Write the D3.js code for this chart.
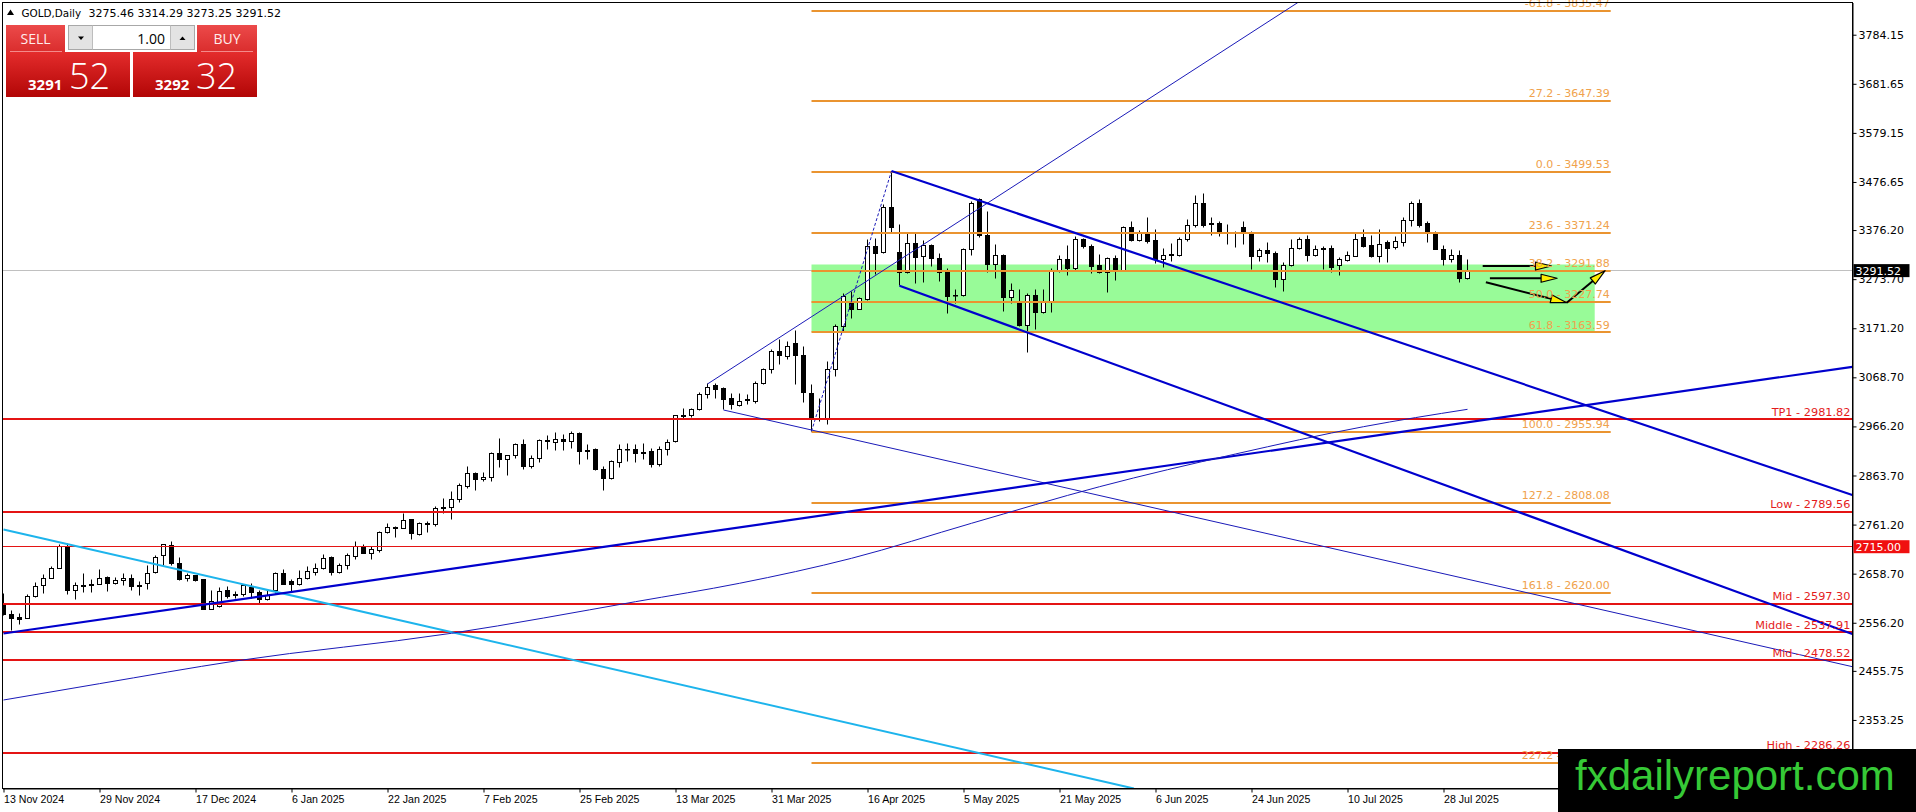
<!DOCTYPE html>
<html>
<head>
<meta charset="utf-8">
<script src="https://cdn.jsdelivr.net/npm/d3@7"></script>
<style>
  body { margin: 0; background: #fff; }
  svg { display: block; }
</style>
</head>
<body>
<div id="chart-area"></div>
<script>
// daily bars, 13 Nov 2024 .. 31 Jul 2025 (index 0..183)
const opens = [
  2596.8, 2572.4, 2567.6, 2565.5, 2610.7, 2633.0, 2649.0, 2669.9, 2715.1, 2624.6,
  2634.4, 2636.4, 2637.1, 2651.1, 2638.6, 2643.4, 2649.0, 2633.7, 2638.6, 2660.8,
  2695.6, 2716.5, 2680.3, 2648.3, 2653.9, 2645.5, 2584.3, 2589.8, 2623.2, 2615.6,
  2614.2, 2630.2, 2619.1, 2603.8, 2623.2, 2658.1, 2642.7, 2635.1, 2649.0, 2660.8,
  2668.5, 2692.1, 2660.8, 2676.8, 2694.2, 2715.1, 2701.2, 2706.8, 2744.3, 2754.1,
  2753.4, 2770.8, 2739.5, 2763.8, 2760.4, 2797.3, 2797.3, 2814.0, 2840.4, 2866.9,
  2855.7, 2859.9, 2908.6, 2897.5, 2904.5, 2927.4, 2882.2, 2899.6, 2934.4, 2932.3,
  2939.2, 2934.4, 2951.8, 2915.6, 2917.0, 2876.6, 2857.8, 2891.2, 2917.0, 2917.0,
  2910.7, 2913.5, 2887.7, 2917.0, 2934.4, 2986.6, 2988.7, 3000.5, 3033.2, 3050.6,
  3045.7, 3024.9, 3010.9, 3020.0, 3017.9, 3054.8, 3085.4, 3122.3, 3113.2, 3139.7,
  3115.3, 3035.3, 2983.1, 2983.1, 3084.0, 3174.5, 3226.7, 3210.7, 3230.2, 3341.6,
  3329.0, 3423.7, 3329.0, 3287.3, 3348.5, 3320.7, 3345.0, 3317.2, 3291.4, 3238.6,
  3238.6, 3336.0, 3439.0, 3365.9, 3303.3, 3324.1, 3235.8, 3226.7, 3175.9, 3239.3,
  3203.7, 3226.7, 3291.4, 3315.1, 3296.3, 3355.5, 3342.9, 3301.2, 3287.3, 3317.2,
  3292.8, 3381.9, 3354.1, 3370.8, 3354.1, 3313.7, 3323.5, 3324.1, 3355.5, 3384.7,
  3432.0, 3388.9, 3388.9, 3370.8, 3370.1, 3381.9, 3368.0, 3322.0, 3332.5, 3327.6,
  3273.3, 3301.9, 3338.1, 3356.9, 3324.1, 3335.9, 3338.1, 3301.9, 3312.3, 3322.0,
  3361.0, 3345.0, 3322.0, 3349.9, 3340.2, 3349.9, 3395.8, 3432.0, 3388.9, 3369.4,
  3336.0, 3313.7, 3324.1, 3275.46
];
const highs = [
  2617.7, 2580.8, 2575.9, 2614.2, 2639.9, 2656.0, 2673.4, 2718.6, 2722.1, 2640.6,
  2658.1, 2646.9, 2666.4, 2652.5, 2651.1, 2658.1, 2656.0, 2642.0, 2676.8, 2695.6,
  2720.0, 2726.9, 2692.8, 2658.1, 2655.3, 2646.9, 2624.6, 2630.2, 2631.6, 2621.2,
  2635.1, 2638.6, 2624.6, 2623.2, 2660.8, 2666.4, 2646.9, 2665.0, 2673.4, 2680.3,
  2697.7, 2694.2, 2678.9, 2701.2, 2725.5, 2718.6, 2715.1, 2746.4, 2763.8, 2756.9,
  2784.7, 2772.2, 2765.2, 2767.3, 2798.6, 2816.1, 2830.0, 2846.0, 2882.2, 2869.6,
  2869.6, 2911.4, 2941.3, 2906.5, 2930.9, 2939.2, 2906.5, 2937.9, 2946.2, 2953.2,
  2948.3, 2955.3, 2953.2, 2927.4, 2920.5, 2882.2, 2894.0, 2927.4, 2929.5, 2927.4,
  2930.9, 2920.5, 2923.9, 2939.2, 2990.0, 3004.0, 3004.0, 3036.7, 3054.8, 3054.8,
  3047.8, 3033.9, 3035.3, 3031.8, 3059.7, 3087.5, 3125.8, 3148.0, 3143.2, 3167.5,
  3134.1, 3054.1, 3024.9, 3101.4, 3178.0, 3242.7, 3247.6, 3235.1, 3356.9, 3358.9,
  3430.6, 3499.53, 3386.8, 3369.4, 3368.0, 3354.1, 3347.1, 3327.6, 3296.3, 3251.1,
  3338.1, 3435.5, 3442.5, 3414.6, 3346.4, 3326.2, 3265.0, 3251.1, 3242.7, 3251.1,
  3251.1, 3296.3, 3324.1, 3345.0, 3363.8, 3358.9, 3347.1, 3326.2, 3319.3, 3322.1,
  3383.3, 3393.8, 3375.0, 3402.8, 3376.4, 3338.1, 3348.5, 3361.0, 3398.6, 3447.4,
  3452.9, 3402.8, 3393.7, 3386.8, 3372.9, 3393.7, 3372.9, 3338.1, 3349.9, 3331.1,
  3308.1, 3356.9, 3361.0, 3365.9, 3345.0, 3341.5, 3345.0, 3319.3, 3331.1, 3370.8,
  3376.4, 3365.9, 3377.7, 3354.1, 3362.4, 3402.8, 3435.5, 3439.0, 3393.7, 3372.9,
  3345.0, 3334.6, 3333.2, 3314.29
];
const lows = [
  2570.4, 2539.7, 2553.6, 2564.1, 2609.3, 2617.7, 2647.6, 2668.5, 2615.6, 2605.1,
  2619.1, 2619.8, 2635.1, 2621.2, 2635.1, 2633.0, 2624.6, 2612.8, 2626.0, 2658.1,
  2676.8, 2676.8, 2644.1, 2642.0, 2642.7, 2582.9, 2582.9, 2588.4, 2606.5, 2607.2,
  2610.7, 2607.2, 2593.3, 2602.4, 2617.7, 2635.8, 2621.2, 2633.0, 2645.5, 2653.9,
  2666.4, 2653.9, 2658.1, 2666.4, 2687.3, 2699.8, 2687.3, 2702.6, 2743.0, 2734.6,
  2752.0, 2730.4, 2737.4, 2745.0, 2756.9, 2784.7, 2770.8, 2807.0, 2836.9, 2832.1,
  2850.9, 2850.9, 2880.8, 2862.7, 2899.6, 2875.2, 2878.7, 2890.5, 2918.4, 2915.6,
  2915.6, 2920.5, 2885.7, 2896.1, 2873.8, 2832.1, 2854.3, 2880.8, 2892.6, 2890.5,
  2896.1, 2880.8, 2882.2, 2906.5, 2932.3, 2979.6, 2985.2, 2999.1, 3023.5, 3024.9,
  3000.5, 3000.5, 3007.4, 3013.0, 3014.4, 3052.7, 3075.7, 3094.5, 3104.9, 3052.7,
  3015.8, 2955.94, 2976.2, 2969.2, 3070.1, 3164.1, 3191.9, 3209.3, 3228.8, 3282.4,
  3327.6, 3369.4, 3260.0, 3285.9, 3265.0, 3266.4, 3299.8, 3268.5, 3202.4, 3223.2,
  3237.2, 3324.1, 3361.0, 3287.3, 3275.4, 3205.8, 3223.2, 3174.5, 3120.2, 3167.6,
  3202.4, 3203.7, 3287.3, 3280.3, 3292.8, 3338.1, 3285.9, 3285.9, 3245.5, 3270.6,
  3291.4, 3352.0, 3352.0, 3348.5, 3306.8, 3298.4, 3310.2, 3320.7, 3352.0, 3381.9,
  3381.9, 3365.9, 3362.4, 3347.1, 3340.2, 3347.1, 3294.2, 3310.2, 3308.1, 3256.6,
  3247.6, 3299.8, 3334.6, 3310.2, 3322.0, 3294.2, 3287.3, 3280.3, 3310.2, 3320.7,
  3340.2, 3319.3, 3308.1, 3308.1, 3336.0, 3342.9, 3383.3, 3381.9, 3349.9, 3334.6,
  3301.2, 3308.1, 3266.4, 3273.25
];
const closes = [
  2572.4, 2564.1, 2563.4, 2610.7, 2631.6, 2649.0, 2669.9, 2715.1, 2624.6, 2633.0,
  2632.3, 2633.0, 2649.0, 2638.6, 2644.1, 2649.0, 2631.6, 2632.3, 2659.4, 2692.8,
  2718.6, 2680.3, 2645.5, 2653.9, 2644.1, 2584.3, 2600.3, 2622.5, 2610.7, 2612.8,
  2633.0, 2619.1, 2605.1, 2613.5, 2658.1, 2637.1, 2637.1, 2649.0, 2662.9, 2669.9,
  2690.7, 2660.8, 2676.8, 2696.3, 2715.1, 2701.2, 2708.2, 2745.0, 2755.5, 2752.7,
  2769.4, 2741.6, 2763.8, 2760.4, 2795.2, 2793.8, 2814.0, 2841.8, 2866.9, 2854.3,
  2859.2, 2908.6, 2897.5, 2904.5, 2928.8, 2882.2, 2899.6, 2935.8, 2935.8, 2939.2,
  2934.4, 2951.8, 2913.5, 2913.5, 2875.2, 2857.8, 2892.6, 2918.4, 2918.4, 2910.0,
  2910.0, 2887.7, 2917.0, 2932.3, 2988.7, 2988.0, 3000.5, 3033.2, 3047.8, 3043.7,
  3022.8, 3013.0, 3017.9, 3021.4, 3056.2, 3085.4, 3122.3, 3115.3, 3134.1, 3115.3,
  3036.7, 2983.1, 2982.0, 3084.0, 3174.5, 3237.2, 3210.7, 3233.7, 3341.6, 3327.6,
  3423.7, 3381.9, 3287.3, 3348.5, 3319.3, 3345.0, 3317.2, 3287.3, 3237.2, 3240.0,
  3334.6, 3432.0, 3365.9, 3303.3, 3324.1, 3235.8, 3249.7, 3175.9, 3239.3, 3203.7,
  3226.7, 3291.4, 3315.1, 3296.3, 3356.9, 3342.9, 3299.8, 3287.3, 3317.2, 3289.4,
  3381.9, 3354.1, 3369.4, 3352.0, 3313.7, 3324.1, 3324.8, 3355.5, 3384.7, 3432.0,
  3384.7, 3386.8, 3372.9, 3369.4, 3369.4, 3368.0, 3322.0, 3332.5, 3327.6, 3273.3,
  3301.9, 3338.1, 3356.9, 3324.1, 3335.9, 3337.4, 3298.4, 3313.7, 3324.1, 3355.5,
  3342.9, 3320.7, 3347.1, 3338.1, 3352.0, 3397.2, 3432.0, 3384.7, 3369.4, 3336.0,
  3313.7, 3324.1, 3275.4, 3291.52
];

const dateTickBars = [0, 12, 24, 36, 48, 60, 72, 84, 96, 108, 120, 132, 144, 156, 168, 180];
const dateTickLabels = ['13 Nov 2024', '29 Nov 2024', '17 Dec 2024', '6 Jan 2025', '22 Jan 2025',
  '7 Feb 2025', '25 Feb 2025', '13 Mar 2025', '31 Mar 2025', '16 Apr 2025', '5 May 2025',
  '21 May 2025', '6 Jun 2025', '24 Jun 2025', '10 Jul 2025', '28 Jul 2025'];

const priceTicks = [3784.15, 3681.65, 3579.15, 3476.65, 3376.20, 3273.70, 3171.20, 3068.70,
  2966.20, 2863.70, 2761.20, 2658.70, 2556.20, 2455.75, 2353.25];

// fibonacci from the 7 Apr low (bar 101) to the 22 Apr high (bar 111)
const fibRatios = [-61.8, 27.2, 0.0, 23.6, 38.2, 50.0, 61.8, 100.0, 127.2, 161.8, 227.2];
const fibPrices = [3835.47, 3647.39, 3499.53, 3371.24, 3291.88, 3227.74, 3163.59, 2955.94, 2808.08, 2620.00, 2264.49];
const fibBars = [101, 200.9];
const fibSwing = [101, 2955.94, 111, 3499.53];

const zoneBars = [101, 198.9];
const zonePrices = [3304.3, 3163.59];

const levelNames = ['TP1', 'Low', '', 'Mid', 'Middle', 'Mid', 'High'];
const levelPrices = [2981.82, 2789.56, 2715.00, 2597.30, 2537.91, 2478.52, 2286.26];

// trend lines as [bar1, price1, bar2, price2]
const thickTrends = [
  [0, 2533.8, 231.1, 3090.7],
  [111, 3499.53, 231.1, 2823.0],
  [112, 3260.0, 231.1, 2532.7]
];
const thinTrends = [
  [88, 3054.8, 161.8, 3851.4],
  [90, 3000.5, 231.1, 2464.5]
];
const cyanTrends = [
  [0, 2751.0, 141.3, 2210.1]
];

const maBars = [0, 12, 29, 56, 79, 92, 106, 121, 137, 154, 170, 183];
const maValues = [2394.9, 2429.0, 2476.4, 2534.2, 2600.2, 2638.6, 2690.8, 2763.9, 2840.3, 2908.6, 2965.6, 3001.9];

const arrows = [
  [184.9, 3301.1, 193.5, 3301.1],
  [185.8, 3275.5, 194.2, 3275.5],
  [185.3, 3267.1, 195.4, 3224.5],
  [195.4, 3224.5, 200.2, 3291.4]
];

const symbolName = 'GOLD,Daily';
const lastBar = [3275.46, 3314.29, 3273.25, 3291.52];
const bidPrice = 3291.52;
const askPrice = 3292.32;
const lotSize = '1.00';
const alertPrice = 2715.00;

const margin = {left: 2.5, top: 2.5, right: 63.5, bottom: 23.5};
const width = 1916 - margin.left - margin.right;
const height = 812 - margin.top - margin.bottom;

const svg = d3.select('#chart-area').append('svg')
  .attr('width', 1916)
  .attr('height', 812);

const defs = svg.append('defs');
defs.append('clipPath').attr('id', 'plot-clip')
  .append('rect').attr('width', width).attr('height', height);

const boxGrad = defs.append('linearGradient').attr('id', 'box-red')
  .attr('x1', 0).attr('y1', 0).attr('x2', 0).attr('y2', 1);
boxGrad.append('stop').attr('offset', 0).attr('stop-color', '#e42c2c');
boxGrad.append('stop').attr('offset', 1).attr('stop-color', '#b20606');

const btnGrad = defs.append('linearGradient').attr('id', 'btn-red')
  .attr('x1', 0).attr('y1', 0).attr('x2', 0).attr('y2', 1);
btnGrad.append('stop').attr('offset', 0).attr('stop-color', '#ec4a4a');
btnGrad.append('stop').attr('offset', 1).attr('stop-color', '#da2d2d');

const canvas = svg.append('g')
  .attr('transform', `translate(${margin.left}, ${margin.top})`);

const x = d3.scaleLinear()
  .domain([-0.125, 231.125])
  .range([0, width]);

const y = d3.scaleLinear()
  .domain([2210.1, 3851.4])
  .range([height, 0]);

const plot = canvas.append('g').attr('clip-path', 'url(#plot-clip)');

// green retracement zone (background)
plot.append('rect')
  .attr('x', x(zoneBars[0]))
  .attr('y', y(zonePrices[0]))
  .attr('width', x(zoneBars[1]) - x(zoneBars[0]))
  .attr('height', y(zonePrices[1]) - y(zonePrices[0]))
  .attr('fill', '#98fb98');

// candles
const barIdx = d3.range(opens.length);
const candle = plot.selectAll('g.candle').data(barIdx).enter()
  .append('g').attr('class', 'candle');

candle.append('line')
  .attr('x1', i => x(i))
  .attr('x2', i => x(i))
  .attr('y1', i => Math.round(y(highs[i])))
  .attr('y2', i => Math.round(y(lows[i])))
  .attr('stroke', '#000');

candle.append('rect')
  .attr('x', i => x(i) - 2)
  .attr('y', i => Math.round(y(Math.max(opens[i], closes[i]))))
  .attr('width', 4)
  .attr('height', i => Math.max(0.5, Math.round(y(Math.min(opens[i], closes[i]))) - Math.round(y(Math.max(opens[i], closes[i])))))
  .attr('fill', i => closes[i] >= opens[i] ? '#fff' : '#000')
  .attr('stroke', '#000');

// bid line
plot.append('line')
  .attr('x1', 0).attr('x2', width)
  .attr('y1', Math.round(y(bidPrice))).attr('y2', Math.round(y(bidPrice)))
  .attr('stroke', '#c0c0c0');

// fibonacci levels
fibPrices.forEach((p, k) => {
  const yy = Math.round(y(p)) + 0.5;
  plot.append('line')
    .attr('x1', x(fibBars[0])).attr('x2', x(fibBars[1]))
    .attr('y1', yy).attr('y2', yy)
    .attr('stroke', '#ea9430')
    .attr('stroke-width', 2);
});

plot.append('line')
  .attr('x1', x(fibSwing[0])).attr('y1', y(fibSwing[1]))
  .attr('x2', x(fibSwing[2])).attr('y2', y(fibSwing[3]))
  .attr('stroke', '#1a1ab8')
  .attr('stroke-dasharray', '3,2');

// horizontal red levels
levelPrices.forEach((p, k) => {
  const thin = levelNames[k] === '';
  const yy = Math.round(y(p)) + (thin ? 0 : 0.5);
  plot.append('line')
    .attr('x1', 0).attr('x2', width)
    .attr('y1', yy).attr('y2', yy)
    .attr('stroke', '#e41414')
    .attr('stroke-width', thin ? 1 : 2);
});

// trend lines
const drawTrend = (t, color, w) => {
  plot.append('line')
    .attr('x1', x(t[0])).attr('y1', y(t[1]))
    .attr('x2', x(t[2])).attr('y2', y(t[3]))
    .attr('stroke', color)
    .attr('stroke-width', w);
};
cyanTrends.forEach(t => drawTrend(t, '#1db4ec', 2));
thinTrends.forEach(t => drawTrend(t, '#1a1ab8', 1));
thickTrends.forEach(t => drawTrend(t, '#0000cd', 2.2));

// moving average
plot.append('path')
  .datum(maBars)
  .attr('fill', 'none')
  .attr('stroke', '#1a1ab8')
  .attr('stroke-width', 1)
  .attr('d', d3.line()
    .x(b => x(b))
    .y((b, k) => y(maValues[k]))
    .curve(d3.curveMonotoneX));

// projection arrows
arrows.forEach(a => {
  const x1 = x(a[0]), y1 = y(a[1]), x2 = x(a[2]), y2 = y(a[3]);
  const ang = Math.atan2(y2 - y1, x2 - x1);
  const len = 16, half = 4;
  const bx = x2 - len * Math.cos(ang), by = y2 - len * Math.sin(ang);
  canvas.append('line')
    .attr('x1', x1).attr('y1', y1).attr('x2', bx).attr('y2', by)
    .attr('stroke', '#000').attr('stroke-width', 2);
  const pts = [
    [x2, y2],
    [bx - half * Math.sin(ang), by + half * Math.cos(ang)],
    [bx + half * Math.sin(ang), by - half * Math.cos(ang)]
  ];
  canvas.append('path')
    .attr('d', 'M' + pts.map(p => p.join(',')).join('L') + 'Z')
    .attr('fill', '#ffee00')
    .attr('stroke', '#000')
    .attr('stroke-width', 1.2)
    .attr('stroke-linejoin', 'round');
});

// fib labels
fibPrices.forEach((p, k) => {
  canvas.append('text')
    .attr('x', x(fibBars[1]) - 1)
    .attr('y', y(p) - 3)
    .attr('text-anchor', 'end')
    .attr('font-family', 'DejaVu Sans, sans-serif')
    .attr('font-size', 11)
    .attr('fill', '#f0a24c')
    .text(`${fibRatios[k].toFixed(1)} - ${p.toFixed(2)}`);
});

// red level labels
levelPrices.forEach((p, k) => {
  if (!levelNames[k]) return;
  canvas.append('text')
    .attr('x', width - 2)
    .attr('y', y(p) - 3)
    .attr('text-anchor', 'end')
    .attr('font-family', 'DejaVu Sans, sans-serif')
    .attr('font-size', 11.3)
    .attr('fill', '#e41b1b')
    .text(`${levelNames[k]} - ${p.toFixed(2)}`);
});

// frame
canvas.append('rect')
  .attr('width', width)
  .attr('height', height)
  .attr('fill', 'none')
  .attr('stroke', '#000');

// axes
const yAxisGroup = canvas.append('g')
  .attr('transform', `translate(${width}, 0)`);
yAxisGroup.call(d3.axisRight(y)
  .tickValues(priceTicks)
  .tickFormat(d3.format('.2f'))
  .tickSize(4)
  .tickSizeOuter(0)
  .tickPadding(2));
yAxisGroup.attr('font-family', 'DejaVu Sans, sans-serif').attr('font-size', 11);

const xAxisGroup = canvas.append('g')
  .attr('transform', `translate(0, ${height})`);
xAxisGroup.call(d3.axisBottom(x)
  .tickValues(dateTickBars)
  .tickFormat((d, i) => dateTickLabels[i])
  .tickSize(4)
  .tickSizeOuter(0)
  .tickPadding(3));
xAxisGroup.attr('font-family', 'Liberation Sans, Arial, sans-serif').attr('font-size', 10.6);
xAxisGroup.selectAll('text').attr('text-anchor', 'start');

// price tags on the axis
const priceTag = (p, fill) => {
  const yy = y(p);
  canvas.append('rect')
    .attr('x', width + 1).attr('y', yy - 6.5)
    .attr('width', 56).attr('height', 13)
    .attr('fill', fill);
  canvas.append('text')
    .attr('x', width + 3).attr('y', yy + 4.5)
    .attr('font-family', 'DejaVu Sans, sans-serif')
    .attr('font-size', 11)
    .attr('fill', '#fff')
    .text(p.toFixed(2));
};
priceTag(bidPrice, '#000');
priceTag(alertPrice, '#f01010');

// header line
svg.append('path').attr('d', 'M7,15L14,15L10.5,9.5Z').attr('fill', '#000');
svg.append('text')
  .attr('x', 21.5).attr('y', 17)
  .attr('font-family', 'DejaVu Sans, sans-serif').attr('font-size', 10.4)
  .text(symbolName);
svg.append('text')
  .attr('x', 88.5).attr('y', 17)
  .attr('font-family', 'DejaVu Sans, sans-serif').attr('font-size', 11)
  .text(lastBar.map(v => v.toFixed(2)).join(' '));

// one click trading panel
const panel = svg.append('g').attr('font-family', 'Open Sans, sans-serif');
panel.append('rect').attr('x', 6).attr('y', 25).attr('width', 59).attr('height', 27).attr('fill', 'url(#btn-red)');
panel.append('rect').attr('x', 197).attr('y', 25).attr('width', 60).attr('height', 27).attr('fill', 'url(#btn-red)');
panel.append('line').attr('x1', 10).attr('x2', 62).attr('y1', 51.5).attr('y2', 51.5).attr('stroke', '#f48a8a');
panel.append('line').attr('x1', 201).attr('x2', 253).attr('y1', 51.5).attr('y2', 51.5).attr('stroke', '#f48a8a');
panel.append('text').attr('x', 35.5).attr('y', 44).attr('text-anchor', 'middle')
  .attr('font-size', 14).attr('fill', '#ffecec').text('SELL');
panel.append('text').attr('x', 227).attr('y', 44).attr('text-anchor', 'middle')
  .attr('font-size', 14).attr('fill', '#ffecec').text('BUY');

panel.append('rect').attr('x', 68.5).attr('y', 25.5).attr('width', 126).attr('height', 24)
  .attr('fill', '#fff').attr('stroke', '#a8a8a8');
panel.append('rect').attr('x', 69).attr('y', 26).attr('width', 23.5).attr('height', 23).attr('fill', '#e3e3e3');
panel.append('rect').attr('x', 170.5).attr('y', 26).attr('width', 23.5).attr('height', 23).attr('fill', '#e3e3e3');
panel.append('line').attr('x1', 92.5).attr('x2', 92.5).attr('y1', 25.5).attr('y2', 49.5).attr('stroke', '#bdbdbd');
panel.append('line').attr('x1', 170.5).attr('x2', 170.5).attr('y1', 25.5).attr('y2', 49.5).attr('stroke', '#bdbdbd');
panel.append('path').attr('d', 'M78,36.5L84,36.5L81,40Z').attr('fill', '#000');
panel.append('path').attr('d', 'M179.5,40L185.5,40L182.5,36.5Z').attr('fill', '#000');
panel.append('text').attr('x', 165).attr('y', 43.5).attr('text-anchor', 'end')
  .attr('font-size', 14).attr('fill', '#000').text(lotSize);

const priceBox = (x0, price) => {
  const big = price.toFixed(2).split('.');
  panel.append('rect').attr('x', x0).attr('y', 52).attr('width', 124).attr('height', 45)
    .attr('fill', 'url(#box-red)');
  panel.append('text').attr('x', x0 + 22).attr('y', 90)
    .attr('font-size', 15).attr('font-weight', 'bold').attr('fill', '#fff').text(big[0]);
  panel.append('text').attr('x', x0 + 63).attr('y', 89)
    .attr('font-size', 36).attr('font-weight', 300).attr('fill', '#fff').text(big[1]);
};
priceBox(6, bidPrice);
priceBox(133, askPrice);

// watermark
svg.append('rect').attr('x', 1558).attr('y', 749).attr('width', 358).attr('height', 63).attr('fill', '#000');
svg.append('text')
  .attr('x', 1575).attr('y', 790)
  .attr('font-family', 'Liberation Sans, Arial, sans-serif')
  .attr('font-size', 42)
  .attr('fill', '#36c936')
  .text('fxdailyreport.com');
</script>
</body>
</html>
